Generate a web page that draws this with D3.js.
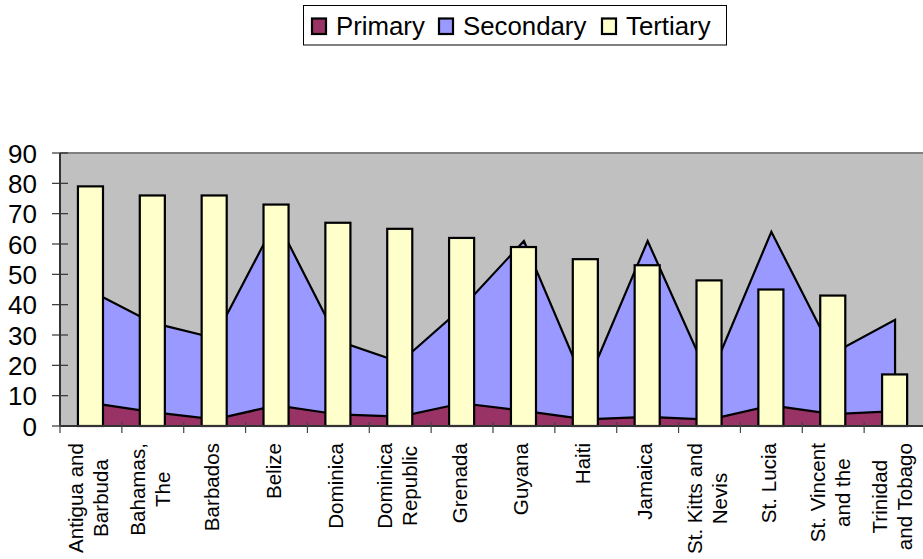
<!DOCTYPE html>
<html>
<head>
<meta charset="utf-8">
<script src="https://cdn.jsdelivr.net/npm/d3@7"></script>
<style>
html,body{margin:0;padding:0;background:#fff;}
svg{display:block;font-family:"Liberation Sans",Arial,sans-serif;}
</style>
</head>
<body>
<svg id="chart" width="923" height="559"></svg>
<script>
const categories = [
  ["Antigua and","Barbuda"],
  ["Bahamas,","The"],
  ["Barbados"],
  ["Belize"],
  ["Dominica"],
  ["Dominica","Republic"],
  ["Grenada"],
  ["Guyana"],
  ["Haiti"],
  ["Jamaica"],
  ["St. Kitts and","Nevis"],
  ["St. Lucia"],
  ["St. Vincent","and the"],
  ["Trinidad","and Tobago"]
];
const primary   = [7.6, 4.6, 2.2, 6.8, 3.8, 3.1, 7.5, 5.0, 2.2, 3.0, 2.1, 6.8, 3.9, 4.9];
const secondary = [44.5, 34, 29, 68, 28, 21, 39, 61, 13, 61, 15.5, 64, 24, 35];
const tertiary  = [79, 76, 76, 73, 67, 65, 62, 59, 55, 53, 48, 45, 43, 17];
const yTicks    = [0,10,20,30,40,50,60,70,80,90];
const seriesNames = ["Primary","Secondary","Tertiary"];
const colors = ["#993366","#9999FF","#FFFFCC"];

const svg = d3.select("#chart");
const keys = categories.map(c => c.join(" "));
const pLeft = 60, pTop = 153, pBottom = 426, pRight = 926;

const x = d3.scaleBand().domain(keys).range([pLeft, pRight]).padding(0);
const y = d3.scaleLinear().domain([0, 90]).range([pBottom, pTop]);
const bw = x.bandwidth();
const cx = k => x(k) + bw / 2;

// plot background
svg.append("rect").attr("x", pLeft).attr("y", pTop)
  .attr("width", pRight - pLeft).attr("height", pBottom - pTop)
  .attr("fill", "#C0C0C0");
svg.append("line").attr("x1", pLeft).attr("x2", pRight).attr("y1", pTop).attr("y2", pTop)
  .attr("stroke", "#808080").attr("stroke-width", 2);

// areas
const area = d3.area().x((d, i) => cx(keys[i])).y0(y(0)).y1(d => y(d));
svg.append("path").datum(secondary).attr("d", area)
  .attr("fill", colors[1]).attr("stroke", "#000").attr("stroke-width", 2.2).attr("stroke-linejoin", "miter");
svg.append("path").datum(primary).attr("d", area)
  .attr("fill", colors[0]).attr("stroke", "#000").attr("stroke-width", 2.2);

// bars
svg.append("g").selectAll("rect").data(tertiary).join("rect")
  .attr("x", (d, i) => x(keys[i]) + bw * 0.29)
  .attr("width", bw * 0.405)
  .attr("y", d => y(d))
  .attr("height", d => y(0) - y(d))
  .attr("fill", colors[2]).attr("stroke", "#000").attr("stroke-width", 2.2);

// y axis
const ya = svg.append("g");
ya.append("line").attr("x1", pLeft).attr("x2", pLeft).attr("y1", pTop).attr("y2", pBottom)
  .attr("stroke", "#333").attr("stroke-width", 2);
ya.selectAll("line.t").data(yTicks).join("line").attr("class", "t")
  .attr("x1", pLeft - 8).attr("x2", pLeft + 8)
  .attr("y1", d => y(d)).attr("y2", d => y(d))
  .attr("stroke", "#333").attr("stroke-width", 1.2);
ya.selectAll("text").data(yTicks).join("text")
  .attr("x", 37).attr("y", d => y(d) + 9.5)
  .attr("text-anchor", "end").attr("font-size", 26).attr("fill", "#000")
  .text(d => d);

// x axis
const xa = svg.append("g");
xa.append("line").attr("x1", pLeft).attr("x2", pRight).attr("y1", pBottom).attr("y2", pBottom)
  .attr("stroke", "#333").attr("stroke-width", 2);
xa.selectAll("line.t").data(keys).join("line").attr("class", "t")
  .attr("x1", d => x(d)).attr("x2", d => x(d))
  .attr("y1", pBottom - 4).attr("y2", pBottom + 7)
  .attr("stroke", "#444").attr("stroke-width", 1.2);

categories.forEach((lines, i) => {
  const g = xa.append("g").attr("transform", `translate(${cx(keys[i])},443) rotate(-90)`);
  const texts = lines.map((ln, j) => g.append("text")
    .attr("font-size", 20.6).attr("fill", "#000")
    .attr("y", 4.5 + (j - (lines.length - 1) / 2) * 25)
    .text(ln));
  const maxW = d3.max(texts, t => t.node().getComputedTextLength());
  texts.forEach(t => t.attr("text-anchor", "middle").attr("x", -maxW / 2));
});

// legend
const lg = svg.append("g");
lg.append("rect").attr("x", 303.5).attr("y", 5.5).attr("width", 423).attr("height", 39.5)
  .attr("fill", "#fff").attr("stroke", "#000").attr("stroke-width", 1);
const legX = [312, 439, 602];
seriesNames.forEach((name, i) => {
  lg.append("rect").attr("x", legX[i]).attr("y", 18.5).attr("width", 14).attr("height", 15.5)
    .attr("fill", colors[i]).attr("stroke", "#000").attr("stroke-width", 2.2);
  lg.append("text").attr("x", legX[i] + 24).attr("y", 35)
    .attr("font-size", 25.8).attr("fill", "#000").text(name);
});
</script>
</body>
</html>
